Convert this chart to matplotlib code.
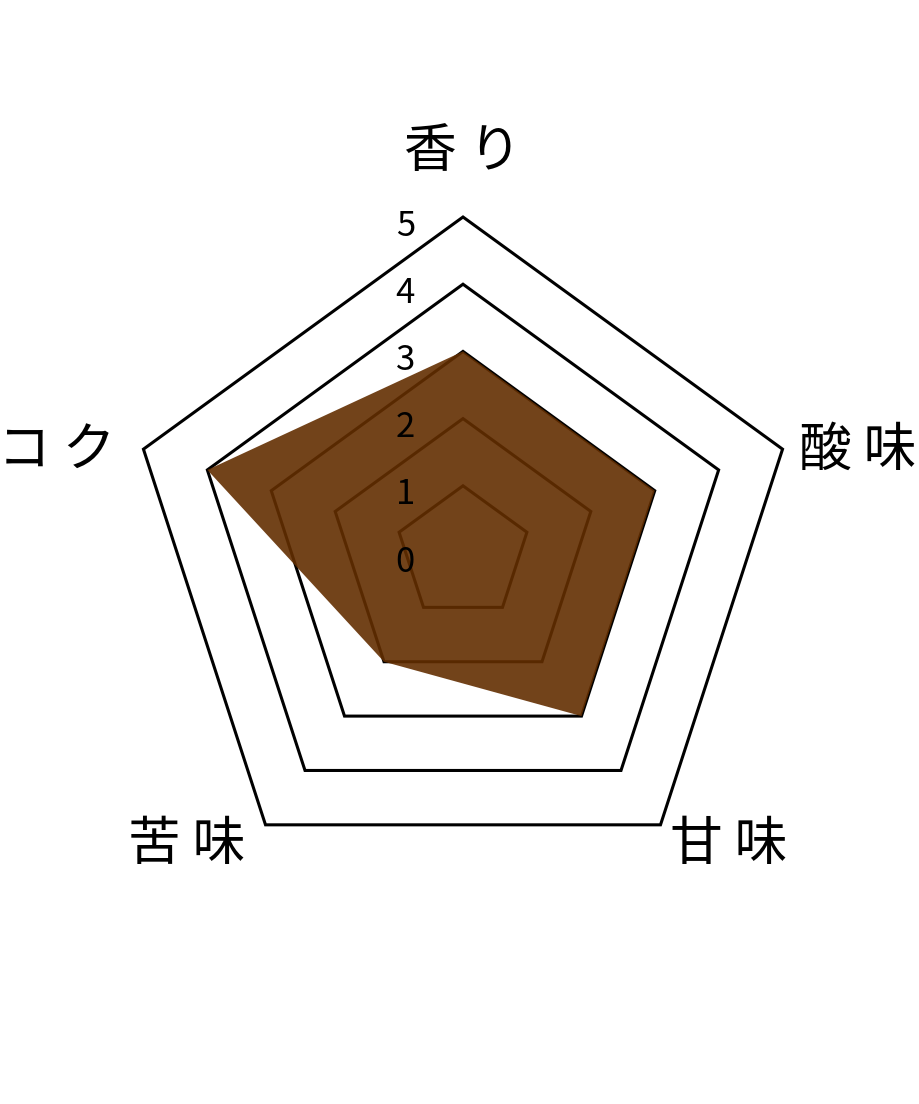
import numpy as np
import matplotlib.pyplot as plt
from matplotlib.patches import Polygon

plt.rcParams['font.family'] = ['Noto Sans CJK JP', 'DejaVu Sans']

# data
categories = ["香り", "酸味", "甘味", "苦味", "コク"]
values = [3, 3, 3, 2, 4]
tick_values = [0, 1, 2, 3, 4, 5]
grid_levels = [1, 2, 3, 4, 5]

# layout (pixel space of the 920x1104 canvas)
cx, cy = 463, 553
unit = 67.2
angles = np.deg2rad([90, 18, -54, -126, 162])
label_pad = [72, 17, 17, 17, 17]
label_dx = [0, 0, 0, -10, -12]


def to_xy(r, theta):
    """polar -> canvas coords (y grows downward)"""
    return cx + r * unit * np.cos(theta), cy - r * unit * np.sin(theta)


fig = plt.figure(figsize=(9.2, 11.04), dpi=100)
ax = fig.add_axes([0, 0, 1, 1])
ax.set_xlim(0, 920)
ax.set_ylim(1104, 0)
ax.set_aspect("equal")
ax.axis("off")

# pentagon grid
for lvl in grid_levels:
    pts = [to_xy(lvl, a) for a in angles]
    ax.add_patch(Polygon(pts, closed=True, fill=False, edgecolor="black",
                         linewidth=2.2, joinstyle="miter", zorder=1))

# data area
data_pts = [to_xy(v, a) for v, a in zip(values, angles)]
ax.add_patch(Polygon(data_pts, closed=True, facecolor="#632e01",
                     edgecolor="none", alpha=0.9, zorder=2))

# radial tick labels
for t in tick_values:
    x, y = to_xy(t, np.pi / 2)
    ax.text(x - 48, y + 9, str(t), ha="right", va="center",
            fontsize=25, color="black", zorder=3)

# category labels, spaced out a bit
for name, a, pad, dx in zip(categories, angles, label_pad, label_dx):
    r = (5 * unit + pad) / unit
    x, y = to_xy(r, a)
    c = np.cos(a)
    if abs(c) < 0.01:
        ha = "center"
    elif c > 0:
        ha = "left"
    else:
        ha = "right"
    ax.text(x + dx, y + 6, " ".join(name), ha=ha, va="center", fontsize=38,
            color="black", zorder=3)

fig.savefig("out.png", dpi=100)
